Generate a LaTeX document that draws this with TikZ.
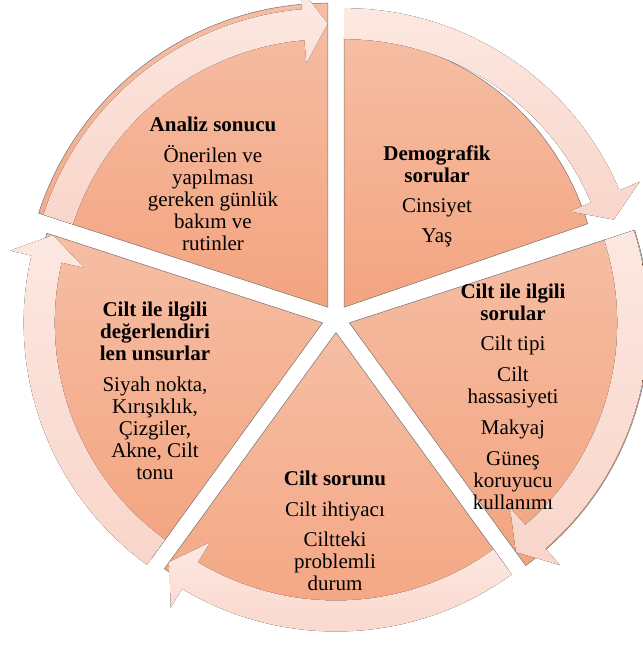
\documentclass[tikz,border=0pt]{standalone}
\usepackage{fontspec}
\setmainfont{Liberation Serif}
\definecolor{dilimust}{RGB}{246,190,164}
\definecolor{dilimalt}{RGB}{243,164,128}
\definecolor{okust}{RGB}{252,232,225}
\definecolor{okalt}{RGB}{249,213,202}
\tikzset{
	dilim/.style={top color=dilimust, bottom color=dilimalt, draw=black!55, line width=0.5pt},
	ok/.style={top color=okust, bottom color=okalt},
	metin/.style={align=center, font=\fontsize{21}{22}\selectfont, text=black, inner sep=0pt},
}
\begin{document}
\begin{tikzpicture}[x=1pt,y=1pt]
			\useasboundingbox (0,0) rectangle (643,646);
			\coordinate (C) at (336,327.5);
			\def\d{14}
			\path (C) ++(126:\d) coordinate (O1);
			\path (C) ++(54:\d) coordinate (O2);
			\path (C) ++(-18:\d) coordinate (O3);
			\path (C) ++(-90:\d) coordinate (O4);
			\path (C) ++(198:\d) coordinate (O5);
			% dilimler
			\draw[dilim] (O1) -- ++(162:304) arc[start angle=162, end angle=90, radius=304] -- cycle;
			\draw[dilim] (O2) -- ++(90:256 and 270) arc[start angle=90, end angle=18, x radius=256, y radius=270] -- cycle;
			\draw[dilim] (O3) -- ++(18:300) arc[start angle=18, end angle=-54, radius=300] -- cycle;
			\draw[dilim] (O4) -- ++(-54:292) arc[start angle=-54, end angle=-126, radius=292] -- cycle;
			\draw[dilim] (O5) -- ++(-126:290) arc[start angle=-126, end angle=-198, radius=290] -- cycle;
			% oklar
			\def\Ri{268} \def\Ro{299} \def\Rm{283.5} \def\Hi{245} \def\Ho{321}
			\foreach \o/\s/\e in {O1/162/90, O2/90/18, O3/18/-54, O4/-54/-126, O5/-126/-198}
				\fill[ok] ([shift={(\s:\Ri)}]\o) arc[start angle=\s, end angle=\e+5, radius=\Ri]
					-- ([shift={(\e+5:\Hi)}]\o) -- ([shift={(\e:\Rm)}]\o) -- ([shift={(\e+5:\Ho)}]\o)
					-- ([shift={(\e+5:\Ro)}]\o) arc[start angle=\e+5, end angle=\s, radius=\Ro] -- cycle;
			% metinler
			\node[metin] (analiz) at (213,462) {\textbf{Analiz sonucu}\\[9pt]Önerilen ve\\yapılması\\gereken günlük\\bakım ve\\rutinler};
			\node[metin] (demo) at (437,450) {\textbf{Demografik}\\\textbf{sorular}\\[8pt]Cinsiyet\\[8pt]Yaş};
			\node[metin] (cilt) at (513,249) {\textbf{Cilt ile ilgili}\\\textbf{sorular}\\[8pt]Cilt tipi\\[9pt]Cilt\\hassasiyeti\\[9pt]Makyaj\\[9pt]Güneş\\koruyucu\\kullanımı};
			\node[metin] (unsur) at (155,255) {\textbf{Cilt ile ilgili}\\\textbf{değerlendiri}\\\textbf{len unsurlar}\\[9pt]Siyah nokta,\\Kırışıklık,\\Çizgiler,\\Akne, Cilt\\tonu};
			\node[metin] (sorun) at (335,115) {\textbf{Cilt sorunu}\\[9pt]Cilt ihtiyacı\\[8pt]Ciltteki\\problemli\\durum};
\end{tikzpicture}
\end{document}
